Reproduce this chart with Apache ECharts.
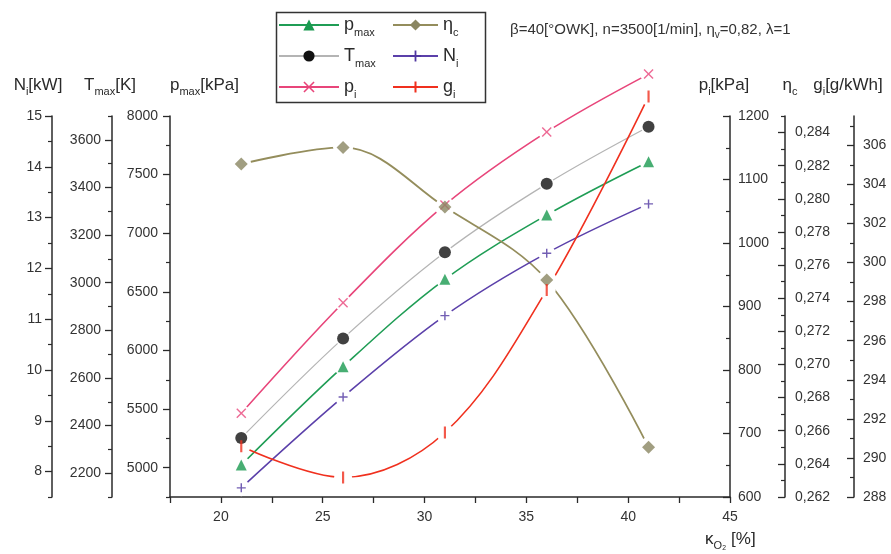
<!DOCTYPE html>
<html>
<head>
<meta charset="utf-8">
<script src="https://cdn.jsdelivr.net/npm/echarts@6/dist/echarts.min.js"></script>
<style>
  html, body { margin: 0; padding: 0; background: #fff; }
  #chart { width: 891px; height: 554px; }
</style>
</head>
<body>
<div id="chart"></div>
<script>
// Oxygen share in the intake charge, κO2 [%]
const oxygenShare = [21, 26, 31, 36, 41];

// Engine parameters at each oxygen share
const pMax = [5023, 5862, 6607, 7155, 7610];          // kPa
const tMax = [2348, 2766, 3128, 3415, 3655];          // K
const pI   = [732, 906, 1060, 1175, 1266];            // kPa
const etaC = [0.2821, 0.2831, 0.2795, 0.2751, 0.2650];
const nI   = [7.68, 9.47, 11.07, 12.30, 13.27];       // kW
const gI   = [290.6, 289.0, 291.3, 298.6, 308.5];     // g/kWh

// Tick positions (labelled and minor) for every scale
const xTicks = [20, 25, 30, 35, 40, 45];
const xMinorTicks = [17.5, 22.5, 27.5, 32.5, 37.5, 42.5];
const nTicks = [8, 9, 10, 11, 12, 13, 14, 15];
const nMinorTicks = [7.5, 8.5, 9.5, 10.5, 11.5, 12.5, 13.5, 14.5];
const tTicks = [2200, 2400, 2600, 2800, 3000, 3200, 3400, 3600];
const tMinorTicks = [2100, 2300, 2500, 2700, 2900, 3100, 3300, 3500, 3700];
const pMaxTicks = [5000, 5500, 6000, 6500, 7000, 7500, 8000];
const pMaxMinorTicks = [4750, 5250, 5750, 6250, 6750, 7250, 7750];
const pITicks = [600, 700, 800, 900, 1000, 1100, 1200];
const pIMinorTicks = [650, 750, 850, 950, 1050, 1150];
const etaTicks = [0.262, 0.264, 0.266, 0.268, 0.270, 0.272, 0.274, 0.276, 0.278, 0.280, 0.282, 0.284];
const etaMinorTicks = [0.263, 0.265, 0.267, 0.269, 0.271, 0.273, 0.275, 0.277, 0.279, 0.281, 0.283, 0.285];
const gTicks = [288, 290, 292, 294, 296, 298, 300, 302, 304, 306];
const gMinorTicks = [289, 291, 293, 295, 297, 299, 301, 303, 305, 307];

const FONT = '"Liberation Sans", Arial, sans-serif';
const INK = '#2a2a2a';

const subRich = (size) => ({
  s: { fontSize: size, verticalAlign: 'bottom', fontFamily: FONT, color: INK }
});

const nameStyle = (align, padding) => ({
  fontSize: 17, fontFamily: FONT, color: INK, lineHeight: 24,
  align: align, verticalAlign: 'middle', padding: padding,
  rich: subRich(11)
});

// One visible scale = a labelled axis plus an overlay carrying the short minor ticks
function scale(o) {
  const right = o.position === 'right';
  const major = {
    type: 'value', position: o.position, offset: o.offset,
    min: o.min, max: o.max,
    name: o.name, nameLocation: 'end', nameGap: o.nameGap, nameMoveOverlap: false,
    nameTextStyle: nameStyle(o.nameAlign, o.namePadding),
    axisLine: { show: true, onZero: false, lineStyle: { color: INK, width: 1.5 } },
    axisTick: { show: true, inside: right, length: 7, customValues: o.ticks,
                lineStyle: { color: INK, width: 1.3 } },
    axisLabel: { customValues: o.ticks, margin: o.margin, fontSize: 14,
                 fontFamily: FONT, color: '#333', formatter: o.fmt || (v => String(v)) },
    splitLine: { show: false }
  };
  const minor = {
    type: 'value', position: o.position, offset: o.offset,
    min: o.min, max: o.max,
    axisLine: { show: false },
    axisTick: { show: true, inside: right, length: 4, customValues: o.minor,
                lineStyle: { color: INK, width: 1.2 } },
    axisLabel: { show: false },
    splitLine: { show: false }
  };
  return [major, minor];
}

const yAxes = [].concat(
  scale({ position: 'left', offset: 0, min: 4750, max: 8000, ticks: pMaxTicks, minor: pMaxMinorTicks,
          margin: 12, name: 'p{s|max}[kPa]', nameGap: 31, nameAlign: 'left', namePadding: [0, 0, 0, 0] }),
  scale({ position: 'left', offset: 58, min: 2100, max: 3700, ticks: tTicks, minor: tMinorTicks,
          margin: 11, name: 'T{s|max}[K]', nameGap: 31, nameAlign: 'center', namePadding: [0, 4, 0, 0] }),
  scale({ position: 'left', offset: 118, min: 7.5, max: 15, ticks: nTicks, minor: nMinorTicks,
          margin: 10, name: 'N{s|i}[kW]', nameGap: 31, nameAlign: 'center', namePadding: [0, 28, 0, 0] }),
  scale({ position: 'right', offset: 0, min: 600, max: 1200, ticks: pITicks, minor: pIMinorTicks,
          margin: 8, name: 'p{s|i}[kPa]', nameGap: 31, nameAlign: 'center', namePadding: [0, 12, 0, 0] }),
  scale({ position: 'right', offset: 55, min: 0.262, max: 0.285, ticks: etaTicks, minor: etaMinorTicks,
          margin: 10, name: 'η{s|c}', nameGap: 31, nameAlign: 'center', namePadding: [0, 0, 0, 10],
          fmt: v => v.toFixed(3).replace('.', ',') }),
  scale({ position: 'right', offset: 124, min: 288, max: 307.5, ticks: gTicks, minor: gMinorTicks,
          margin: 9, name: 'g{s|i}[g/kWh]', nameGap: 31, nameAlign: 'center', namePadding: [0, 12, 0, 0] })
);

// Marker shapes
const CROSS = 'path://M1,0 L5,4 L9,0 L10,1 L6,5 L10,9 L9,10 L5,6 L1,10 L0,9 L4,5 L0,1 Z';
const PLUS = 'path://M4.2,0 L5.8,0 L5.8,4.2 L10,4.2 L10,5.8 L5.8,5.8 L5.8,10 L4.2,10 L4.2,5.8 L0,5.8 L0,4.2 L4.2,4.2 Z';
const BAR = 'path://M0,0 L0.01,0 L0,0.01 Z M9.99,10 L10,10 L10,9.99 Z M4.1,0 L5.9,0 L5.9,10 L4.1,10 Z';

const series = [];
const halos = [];
const markers = [];
function addQuantity(name, values, axisIndex, look) {
  const pts = oxygenShare.map((x, i) => [x, values[i]]);
  series.push({
    type: 'line', name: name, yAxisIndex: axisIndex, data: pts,
    smooth: 0.35, showSymbol: false, symbol: look.symbol, symbolSize: look.size,
    clip: false, z: 2, silent: true,
    lineStyle: { color: look.line, width: look.width },
    itemStyle: { color: look.mark }
  });
  // white clearance disc around each marker, painted over every curve
  halos.push({
    type: 'scatter', yAxisIndex: axisIndex, data: pts, symbol: 'circle',
    symbolSize: look.halo, clip: false, z: 8, silent: true,
    itemStyle: { color: '#ffffff', opacity: 1 }
  });
  markers.push({
    type: 'scatter', yAxisIndex: axisIndex, data: pts, symbol: look.symbol,
    symbolSize: look.size, clip: false, z: 9, silent: true,
    itemStyle: { color: look.mark }
  });
}

addQuantity('p_max', pMax, 0,  { symbol: 'triangle', size: 11, halo: 18, line: '#1f9d55', mark: '#1a9a50', width: 1.6 });
addQuantity('T_max', tMax, 2,  { symbol: 'circle', size: 12, halo: 15, line: '#b4b4b4', mark: '#111111', width: 1.2 });
addQuantity('p_i',   pI,   6,  { symbol: CROSS, size: 10, halo: 17, line: '#e8457a', mark: '#e8457a', width: 1.6 });
addQuantity('η_c',   etaC, 8,  { symbol: 'diamond', size: 13, halo: 20, line: '#948d5c', mark: '#8a8662', width: 1.8 });
addQuantity('N_i',   nI,   4,  { symbol: PLUS, size: 9, halo: 17, line: '#5b40aa', mark: '#4f36a0', width: 1.6 });
addQuantity('g_i',   gI,   10, { symbol: BAR, size: 12, halo: 18, line: '#f0301e', mark: '#f0301e', width: 1.6 });

const legendLabels = {
  'p_max': 'p{s|max}', 'T_max': 'T{s|max}', 'p_i': 'p{s|i}',
  'η_c': 'η{s|c}', 'N_i': 'N{s|i}', 'g_i': 'g{s|i}'
};
const legendText = {
  fontSize: 18, fontFamily: FONT, color: INK, lineHeight: 26,
  rich: { s: { fontSize: 11, verticalAlign: 'bottom', fontFamily: FONT, color: INK } }
};
const legendBase = {
  orient: 'vertical', top: 12, itemHeight: 14, itemGap: 5, padding: 0,
  selectedMode: false, formatter: n => legendLabels[n], textStyle: legendText
};

const option = {
  animation: false,
  backgroundColor: '#ffffff',
  title: {
    text: 'β=40[°OWK], n=3500[1/min], η{s|v}=0,82, λ=1',
    left: 510, top: 20, padding: 0,
    textStyle: {
      fontSize: 15, fontWeight: 'normal', fontFamily: FONT, color: '#333', lineHeight: 20,
      rich: { s: { fontSize: 10, verticalAlign: 'bottom', fontFamily: FONT, color: '#333' } }
    }
  },
  legend: [
    Object.assign({}, legendBase, { data: ['p_max', 'T_max', 'p_i'], left: 278, itemWidth: 60 }),
    Object.assign({}, legendBase, { data: ['η_c', 'N_i', 'g_i'], left: 392, itemWidth: 45 })
  ],
  graphic: [{
    type: 'rect', left: 274, top: 10, silent: true,
    shape: { width: 209, height: 90 },
    style: { fill: 'none', stroke: '#333', lineWidth: 1.5 }
  }, {
    // abscissa title
    type: 'text', left: 705, top: 527, silent: true,
    style: {
      text: 'κ{s|O₂} [%]', fontSize: 17, fontFamily: FONT, fill: INK, lineHeight: 24,
      rich: { s: { fontSize: 11, verticalAlign: 'bottom', fontFamily: FONT, fill: INK } }
    }
  }],
  grid: { left: 170, right: 161, top: 116, bottom: 57, containLabel: false, outerBoundsMode: 'none' },
  xAxis: {
    type: 'value', min: 17.5, max: 45, position: 'bottom',
    axisLine: { show: true, onZero: false, lineStyle: { color: INK, width: 1.5 } },
    axisTick: { show: true, length: 6, customValues: xMinorTicks.concat(xTicks),
                lineStyle: { color: INK, width: 1.3 } },
    axisLabel: { customValues: xTicks, margin: 13, fontSize: 14, fontFamily: FONT, color: '#333' },
    splitLine: { show: false }
  },
  yAxis: yAxes,
  series: series.concat(halos, markers)
};

const chart = echarts.init(document.getElementById('chart'), null, { renderer: 'canvas' });
chart.setOption(option);
</script>
</body>
</html>
